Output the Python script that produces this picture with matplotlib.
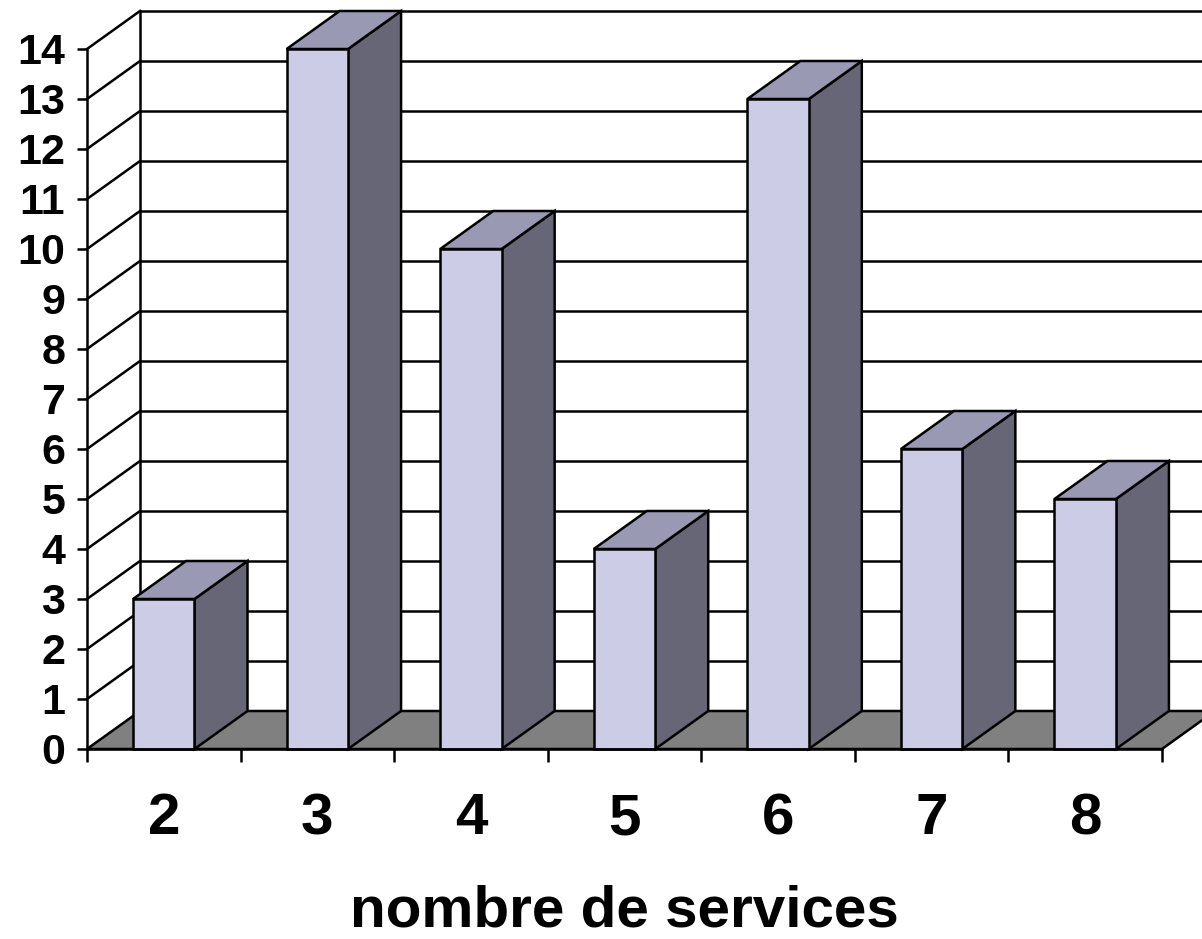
import matplotlib
matplotlib.use("Agg")
import matplotlib.pyplot as plt
from matplotlib.patches import Polygon, Rectangle

categories = ["2", "3", "4", "5", "6", "7", "8"]
values = [3, 14, 10, 4, 13, 6, 5]
yticks = list(range(0, 15))
xlabel = "nombre de services"

FRONT = "#ccccE6"
TOP = "#9999B3"
SIDE = "#666677"
FLOOR = "#808080"
LW = 1.8

fig = plt.figure(figsize=(12.02, 9.39), dpi=100)
ax = fig.add_axes([87 / 1202, (939 - 749) / 939, 1075 / 1202, 700 / 939])
n = len(categories)
ax.set_xlim(-0.5, n - 0.5)
ax.set_ylim(0, 14)

dx = 53 / (1075 / 7)
dy = 38 / 50
bw = 0.4

# back wall gridlines and side wall diagonals
for v in yticks[1:]:
    ax.plot([-0.5 + dx, n - 0.5 + dx + 1], [v + dy, v + dy], color="black", lw=LW, clip_on=False, zorder=1)
    ax.plot([-0.5, -0.5 + dx], [v, v + dy], color="black", lw=LW, clip_on=False, zorder=1)
ax.plot([-0.5 + dx, -0.5 + dx], [dy, yticks[-1] + dy], color="black", lw=LW, clip_on=False, zorder=1)

# floor
floor = Polygon([(-0.5, 0), (n - 0.5, 0), (n - 0.5 + dx, dy), (-0.5 + dx, dy)],
                closed=True, facecolor=FLOOR, edgecolor="black", lw=LW, clip_on=False, zorder=2)
ax.add_patch(floor)

# bars
for i, v in enumerate(values):
    x0, x1 = i - bw / 2, i + bw / 2
    side = Polygon([(x1, 0), (x1 + dx, dy), (x1 + dx, v + dy), (x1, v)], closed=True,
                   facecolor=SIDE, edgecolor="black", lw=LW, clip_on=False, zorder=3)
    top = Polygon([(x0, v), (x1, v), (x1 + dx, v + dy), (x0 + dx, v + dy)], closed=True,
                  facecolor=TOP, edgecolor="black", lw=LW, clip_on=False, zorder=3)
    front = Rectangle((x0, 0), bw, v, facecolor=FRONT, edgecolor="black", lw=LW, clip_on=False, zorder=4)
    ax.add_patch(side)
    ax.add_patch(top)
    ax.add_patch(front)

ax.set_facecolor("none")
for s in ["top", "right"]:
    ax.spines[s].set_visible(False)
ax.spines["left"].set_linewidth(LW)
ax.spines["bottom"].set_linewidth(LW)
ax.spines["left"].set_zorder(5)
ax.spines["bottom"].set_zorder(5)

ax.set_yticks(yticks)
ax.set_yticklabels([str(t) for t in yticks], fontsize=31, fontweight="bold", family="Liberation Sans")
ax.tick_params(axis="y", length=7.2, width=LW, pad=8.5)

ax.set_xticks(range(n))
ax.set_xticklabels(categories, fontsize=42, fontweight="bold", family="Liberation Sans")
ax.set_xticks([i - 0.5 for i in range(n + 1)], minor=True)
ax.tick_params(axis="x", which="major", length=0, pad=31)
ax.tick_params(axis="x", which="minor", length=9.4, width=LW)

ax.set_xlabel(xlabel, fontsize=42, fontweight="bold", family="Liberation Sans", labelpad=28)

fig.savefig("out.png", dpi=100)
